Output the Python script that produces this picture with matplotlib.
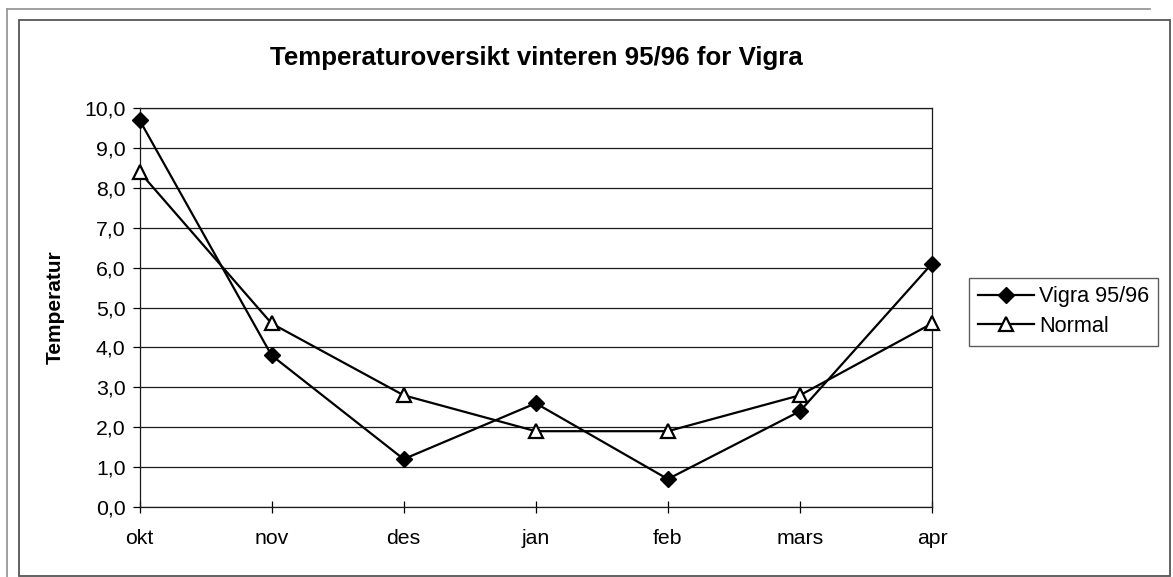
import matplotlib
matplotlib.use("Agg")
import matplotlib.pyplot as plt
from matplotlib.lines import Line2D
from matplotlib.patches import Rectangle
from matplotlib.ticker import FuncFormatter

months = ["okt", "nov", "des", "jan", "feb", "mars", "apr"]
vigra = [9.7, 3.8, 1.2, 2.6, 0.7, 2.4, 6.1]
normal = [8.4, 4.6, 2.8, 1.9, 1.9, 2.8, 4.6]
yticks = [0, 1, 2, 3, 4, 5, 6, 7, 8, 9, 10]

plt.rcParams['font.family'] = ['Liberation Sans', 'DejaVu Sans']

W, H = 1173, 577
fig = plt.figure(figsize=(W / 100, H / 100), dpi=100)
fig.patch.set_facecolor('white')

left, right, top, bottom = 139.5, 932, 108, 507
ax = fig.add_axes([left / W, 1 - bottom / H, (right - left) / W, (bottom - top) / H])

x = list(range(len(months)))
ax.plot(x, vigra, color='black', lw=1.6, marker='D', markersize=8.5,
        markerfacecolor='black', markeredgecolor='black', label='Vigra 95/96',
        zorder=3, clip_on=False)
ax.plot(x, normal, color='black', lw=1.6, marker='^', markersize=10,
        markerfacecolor='white', markeredgecolor='black', markeredgewidth=1.6,
        label='Normal', zorder=3, clip_on=False)

ax.set_xlim(0, len(months) - 1)
ax.set_ylim(0, 10)
ax.set_xticks(x)
ax.set_xticklabels(months)
ax.set_yticks(yticks)
ax.yaxis.set_major_formatter(FuncFormatter(lambda v, p: f"{v:.1f}".replace('.', ',')))
ax.grid(axis='y', color='#1a1a1a', lw=0.9)
ax.set_axisbelow(True)
for s in ax.spines.values():
    s.set_color('#1a1a1a')
    s.set_linewidth(0.9)
ax.tick_params(axis='y', direction='out', length=5, width=0.9, pad=5, labelsize=15.3)
ax.tick_params(axis='x', direction='inout', length=9, width=0.9, pad=11, labelsize=15.3)

ax.set_ylabel('Temperatur', fontsize=15, fontweight='bold', labelpad=14)
fig.text(536 / W, 1 - 58 / H, 'Temperaturoversikt vinteren 95/96 for Vigra',
         ha='center', va='center', fontsize=18.6, fontweight='bold')

leg = fig.legend(loc='center left', bbox_to_anchor=(969 / W, 1 - 311.5 / H),
                 fontsize=15.6, frameon=True, fancybox=False, handlelength=2.6,
                 handletextpad=0.25, labelspacing=0.4, borderpad=0.4,
                 borderaxespad=0)
leg.get_frame().set_edgecolor('#333333')
leg.get_frame().set_linewidth(1.0)

# chart frames
fig.patches.append(Rectangle((19 / W, 1 - 576 / H), (1170 - 19) / W, (576 - 20) / H,
                             transform=fig.transFigure, fill=False, edgecolor='#555555', lw=1.3))
fig.lines.append(Line2D([7 / W, 1150 / W], [1 - 9 / H, 1 - 9 / H], transform=fig.transFigure,
                        color='#999999', lw=1.3))
fig.lines.append(Line2D([7 / W, 7 / W], [1 - 9 / H, 0], transform=fig.transFigure,
                        color='#999999', lw=1.3))

fig.savefig('out.png', dpi=100, facecolor='white')
